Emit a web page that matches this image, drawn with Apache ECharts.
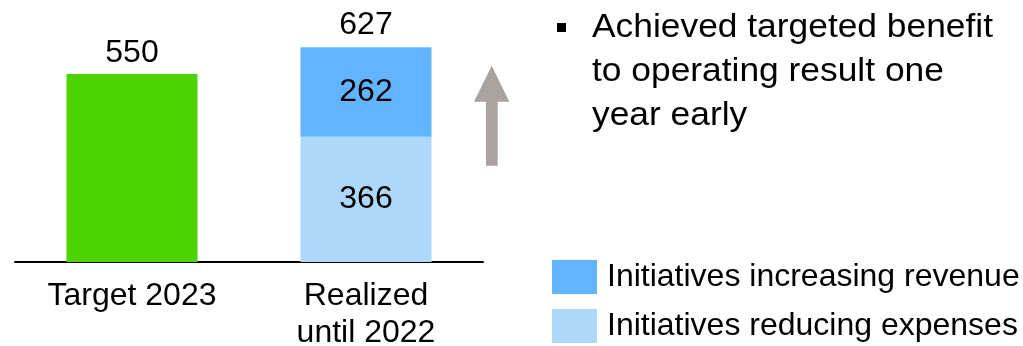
<!DOCTYPE html>
<html>
<head>
<meta charset="utf-8">
<script src="https://cdn.jsdelivr.net/npm/echarts@6/dist/echarts.min.js"></script>
<style>
  html, body { margin: 0; padding: 0; background: #fff; }
  #chart { width: 1023px; height: 346px; }
</style>
</head>
<body>
<div id="chart"></div>
<script>
const categories = ['Target 2023', 'Realized\nuntil 2022'];
const target = [550, '-'];
const reducingExpenses = ['-', 366];
const increasingRevenue = ['-', 262];
const totals = ['-', 627];
const legendNames = ['Initiatives increasing revenue', 'Initiatives reducing expenses'];
const bulletText = 'Achieved targeted benefit\nto operating result one\nyear early';

const FONT = '"Liberation Sans", Arial, Helvetica, sans-serif';
const chart = echarts.init(document.getElementById('chart'), null, { renderer: 'canvas' });

const labelBase = { fontFamily: FONT, fontSize: 32, color: '#000' };

chart.setOption({
  animation: false,
  backgroundColor: '#fff',
  grid: { left: 15, right: 540, top: 22.6, bottom: 84, containLabel: false, outerBoundsMode: 'none' },
  xAxis: {
    type: 'category',
    data: categories,
    axisLine: { show: true, lineStyle: { color: '#000', width: 2 } },
    axisTick: { show: false },
    axisLabel: { fontFamily: FONT, fontSize: 32, color: '#000', lineHeight: 37, margin: 16, interval: 0 }
  },
  yAxis: {
    type: 'value', min: 0, max: 700, interval: 100,
    show: false, splitLine: { show: false }
  },
  legend: {
    data: legendNames,
    orient: 'vertical',
    left: 552, top: 260,
    padding: 0,
    itemWidth: 45, itemHeight: 34, itemGap: 15,
    icon: 'rect',
    selectedMode: false,
    textStyle: { fontFamily: FONT, fontSize: 32, lineHeight: 32, color: '#000', padding: [0, 0, 0, 5] }
  },
  series: [
    {
      name: 'Target 2023', type: 'bar', data: target, barWidth: 131, barGap: '-100%',
      itemStyle: { color: '#4CD300' },
      label: Object.assign({ show: true, position: 'top', distance: 5 }, labelBase)
    },
    {
      name: legendNames[1], type: 'bar', stack: 'realized', data: reducingExpenses, barWidth: 131, barGap: '-100%',
      itemStyle: { color: '#ADD8FA' },
      label: Object.assign({ show: true, position: 'inside' }, labelBase)
    },
    {
      name: legendNames[0], type: 'bar', stack: 'realized', data: increasingRevenue, barWidth: 131, barGap: '-100%',
      itemStyle: { color: '#62B4FF' },
      label: Object.assign({ show: true, position: 'inside' }, labelBase)
    },
    {
      name: 'Total', type: 'bar', data: totals, barWidth: 131, barGap: '-100%',
      itemStyle: { color: 'rgba(0,0,0,0)' }, z: 1,
      label: Object.assign({ show: true, position: 'top', distance: 6 }, labelBase)
    }
  ],
  graphic: [
    {
      type: 'polygon',
      shape: { points: [[474, 101.7], [491.7, 65.7], [509.3, 101.7], [497.7, 101.7], [497.7, 165.7], [486, 165.7], [486, 101.7]] },
      style: { fill: '#A9A29E' }
    },
    {
      type: 'rect',
      shape: { x: 557, y: 23, width: 9, height: 9 },
      style: { fill: '#000' }
    },
    {
      type: 'text',
      x: 592, y: 5, scaleX: 1.04,
      style: { text: bulletText, font: '34px ' + FONT, fill: '#000', lineHeight: 44.3, textAlign: 'left', textVerticalAlign: 'top' }
    }
  ]
});
</script>
</body>
</html>
